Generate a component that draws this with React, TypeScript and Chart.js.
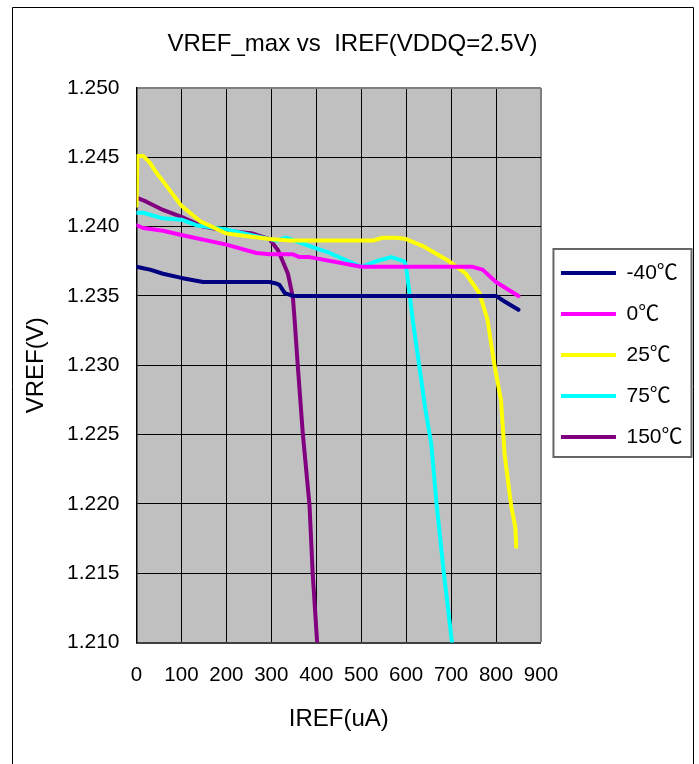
import React, { useEffect, useRef } from 'react';
import { Chart, registerables } from 'chart.js';

Chart.register(...registerables);

// ---- data (IREF in uA, VREF in V) ----
const seriesLabels = ['-40\u2103', '0\u2103', '25\u2103', '75\u2103', '150\u2103'];
const seriesColors = ['#000080', '#FF00FF', '#FFFF00', '#00FFFF', '#800080'];

const irefM40 = [0, 15, 30, 59, 100, 148, 296, 311, 318, 330, 348, 800, 819, 850];
const vrefM40 = [1.2371, 1.237, 1.2369, 1.2366, 1.2363, 1.236, 1.236, 1.2359, 1.2358, 1.2352, 1.235, 1.235, 1.2346, 1.234];

const iref0 = [0, 15, 59, 100, 200, 267, 296, 348, 363, 385, 500, 748, 770, 800, 850];
const vref0 = [1.2401, 1.2399, 1.2397, 1.2394, 1.2387, 1.2381, 1.238, 1.238, 1.2378, 1.2378, 1.2371, 1.2371, 1.2369, 1.236, 1.235];

const iref25 = [0, 2, 15, 30, 44, 63, 100, 141, 200, 296, 341, 526, 548, 578, 600, 637, 696, 733, 763, 781, 796, 811, 819, 834, 843, 845];
const vref25 = [1.2415, 1.2451, 1.2451, 1.2446, 1.2439, 1.2431, 1.2415, 1.2404, 1.2395, 1.2391, 1.239, 1.239, 1.2392, 1.2392, 1.2391, 1.2386, 1.2375, 1.2366, 1.2352, 1.2333, 1.2301, 1.2275, 1.2236, 1.2198, 1.2183, 1.2169];

const iref75 = [0, 15, 59, 100, 133, 200, 296, 311, 333, 385, 430, 500, 533, 567, 596, 600, 615, 643, 656, 668, 684, 702];
const vref75 = [1.241, 1.241, 1.2406, 1.2405, 1.2401, 1.2398, 1.2391, 1.239, 1.2392, 1.2386, 1.2381, 1.2371, 1.2375, 1.2378, 1.2375, 1.2371, 1.2332, 1.2268, 1.2243, 1.2199, 1.215, 1.21];

const iref150 = [0, 22, 59, 100, 148, 200, 259, 296, 315, 337, 348, 352, 359, 370, 385, 392, 402];
const vref150 = [1.2421, 1.2418, 1.2412, 1.2407, 1.24, 1.2397, 1.2395, 1.2391, 1.2383, 1.2366, 1.2349, 1.2332, 1.2299, 1.2251, 1.2199, 1.215, 1.21];

const xTicksMin = 0;
const xTicksMax = 900;
const xTickStep = 100;
const yTicksMin = 1.21;
const yTicksMax = 1.25;
const yTickStep = 0.005;

const titleText = 'VREF_max vs  IREF(VDDQ=2.5V)';
const xTitle = 'IREF(uA)';
const yTitle = 'VREF(V)';

const FONT = "'Liberation Sans', Arial, 'Noto Sans CJK SC', sans-serif";

const seriesX = [irefM40, iref0, iref25, iref75, iref150];
const seriesY = [vrefM40, vref0, vref25, vref75, vref150];

const plotBg = {
  id: 'plotBg',
  beforeDraw(chart: any) {
    const { ctx, chartArea } = chart;
    ctx.save();
    ctx.fillStyle = '#C0C0C0';
    ctx.fillRect(chartArea.left, chartArea.top, chartArea.right - chartArea.left, chartArea.bottom - chartArea.top);
    ctx.restore();
  },
};

const frame = {
  id: 'frame',
  afterDraw(chart: any) {
    const { ctx } = chart;
    ctx.save();
    // outer frame
    ctx.strokeStyle = '#000';
    ctx.lineWidth = 1;
    ctx.beginPath();
    ctx.moveTo(12.5, chart.height + 2);
    ctx.lineTo(12.5, 7.5);
    ctx.lineTo(693.5, 7.5);
    ctx.lineTo(693.5, chart.height + 2);
    ctx.stroke();
    // legend box
    const lg = chart.legend;
    if (lg && lg.legendHitBoxes && lg.legendHitBoxes.length) {
      const hb = lg.legendHitBoxes;
      const first = hb[0];
      const last = hb[hb.length - 1];
      const top = first.top + first.height / 2 - 24;
      const bottom = last.top + last.height / 2 + 20;
      const left = lg.left + 12.5;
      const right = lg.right - 1;
      ctx.strokeStyle = '#666';
      ctx.lineWidth = 2;
      ctx.strokeRect(left, top, right - left, bottom - top);
    }
    ctx.restore();
  },
};

export default function App() {
  const ref = useRef<HTMLCanvasElement>(null);

  useEffect(() => {
    const datasets = seriesLabels.map((label, i) => ({
      label,
      data: seriesX[i].map((x, j) => ({ x, y: seriesY[i][j] })),
      borderColor: seriesColors[i],
      backgroundColor: seriesColors[i],
      borderWidth: 4,
      borderCapStyle: 'round' as const,
      borderJoinStyle: 'round' as const,
      pointRadius: 0,
      pointHoverRadius: 0,
      tension: 0,
      fill: false,
    }));

    const chart = new Chart(ref.current!, {
      type: 'line',
      data: { datasets },
      options: {
        animation: false,
        responsive: false,
        maintainAspectRatio: false,
        devicePixelRatio: 1,
        layout: { padding: { left: 12.5, right: 6.5, top: 0, bottom: 0 } },
        plugins: {
          tooltip: { enabled: false },
          title: {
            display: true,
            text: titleText,
            color: '#000',
            font: { family: FONT, size: 24, weight: 'normal' },
            padding: { top: 29.6, bottom: 29.6 },
          },
          legend: {
            display: true,
            position: 'right',
            align: 'start',
            title: { display: true, text: '', padding: { top: 230.5, bottom: 0 }, font: { size: 10 } },
            labels: {
              usePointStyle: true,
              pointStyle: 'line',
              pointStyleWidth: 55,
              padding: 20,
              color: '#000',
              font: { family: FONT, size: 21 },
            },
          },
        },
        scales: {
          x: {
            type: 'linear',
            min: xTicksMin,
            max: xTicksMax,
            ticks: {
              stepSize: xTickStep,
              padding: 21,
              color: '#000',
              font: { family: FONT, size: 20.5 },
              maxRotation: 0,
              autoSkip: false,
            },
            grid: {
              drawTicks: false,
              color: (c: any) => (c.tick && c.tick.value === xTicksMax ? '#808080' : '#000'),
              lineWidth: (c: any) => (c.tick && c.tick.value === xTicksMax ? 2 : 1),
            },
            border: { color: '#404040', width: 2 },
            title: {
              display: true,
              text: xTitle,
              color: '#000',
              font: { family: FONT, size: 24 },
              padding: { top: 0, bottom: 30.6 },
            },
            afterFit: (s: any) => {
              s.height = 121.5;
            },
          },
          y: {
            type: 'linear',
            min: yTicksMin,
            max: yTicksMax,
            ticks: {
              stepSize: yTickStep,
              padding: 17,
              color: '#000',
              font: { family: FONT, size: 21 },
              callback: (v: any) => Number(v).toFixed(3),
            },
            grid: {
              drawTicks: false,
              color: (c: any) => (c.tick && Math.abs(c.tick.value - yTicksMax) < 1e-6 ? '#808080' : '#000'),
              lineWidth: (c: any) => (c.tick && Math.abs(c.tick.value - yTicksMax) < 1e-6 ? 2 : 1),
            },
            border: { color: '#000', width: 1.5 },
            title: {
              display: true,
              text: yTitle,
              color: '#000',
              font: { family: FONT, size: 24 },
              padding: { top: 9.1, bottom: 0 },
            },
            afterFit: (s: any) => {
              s.width = 124;
            },
          },
        },
      },
      plugins: [plotBg, frame],
    } as any);

    return () => chart.destroy();
  }, []);

  return (
    <div style={{ position: 'fixed', left: 0, top: 0, width: 699, height: 764, background: '#fff', overflow: 'hidden' }}>
      <canvas ref={ref} width={699} height={764} style={{ display: 'block', width: 699, height: 764 }} />
    </div>
  );
}
